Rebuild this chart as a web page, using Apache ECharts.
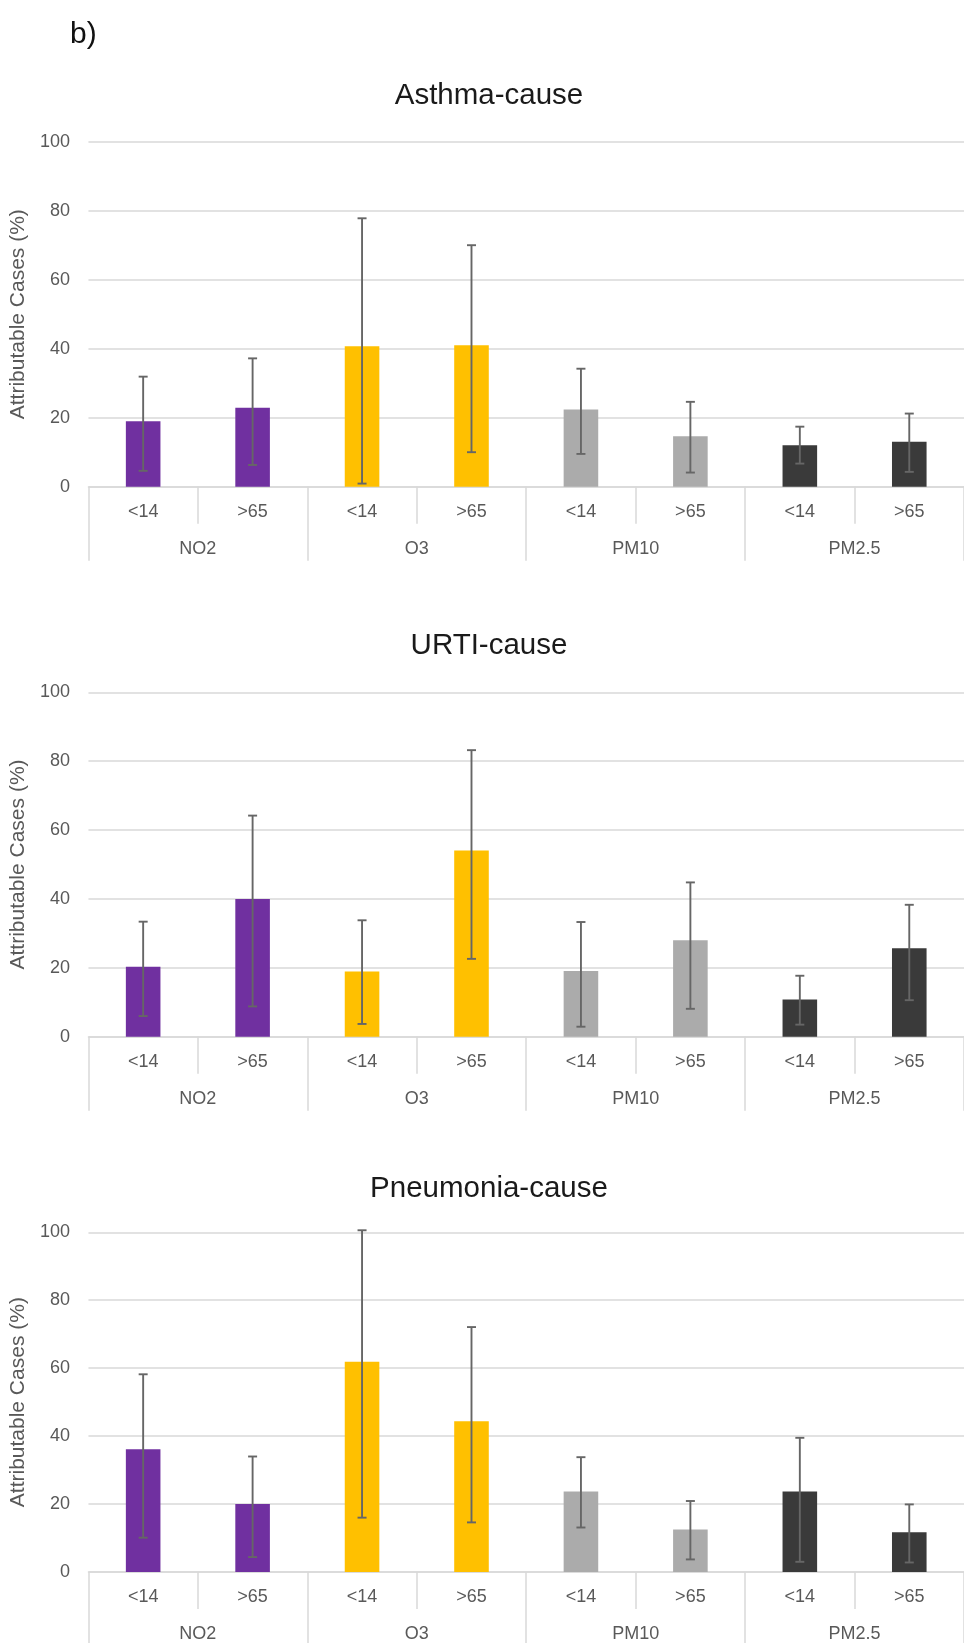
<!DOCTYPE html>
<html>
<head>
<meta charset="utf-8">
<script src="https://cdn.jsdelivr.net/npm/echarts@6/dist/echarts.min.js"></script>
<style>
html,body{margin:0;padding:0;background:#fff;}
#c{width:964px;height:1643px;}
</style>
</head>
<body>
<div id="c"></div>
<script>
// ---- data ----
const subLabels = ['<14', '>65', '<14', '>65', '<14', '>65', '<14', '>65'];
const groupLabels = ['NO2', 'O3', 'PM10', 'PM2.5'];
const chartTitles = ['Asthma-cause', 'URTI-cause', 'Pneumonia-cause'];
const yTicks = [0, 20, 40, 60, 80, 100];

const asthmaValues = [19.0, 22.9, 40.7, 41.0, 22.4, 14.6, 12.0, 13.0];
const asthmaLower  = [4.6, 6.3, 0.9, 10.0, 9.5, 4.1, 6.7, 4.3];
const asthmaUpper  = [31.9, 37.2, 77.8, 70.0, 34.2, 24.6, 17.4, 21.2];

const urtiValues = [20.3, 40.0, 18.9, 54.1, 19.1, 28.0, 10.8, 25.7];
const urtiLower  = [6.0, 8.8, 3.7, 22.6, 2.9, 8.1, 3.5, 10.6];
const urtiUpper  = [33.4, 64.2, 33.8, 83.2, 33.3, 44.8, 17.7, 38.3];

const pneuValues = [36.1, 20.0, 61.9, 44.4, 23.7, 12.5, 23.7, 11.7];
const pneuLower  = [10.1, 4.4, 16.0, 14.6, 13.1, 3.7, 3.0, 2.8];
const pneuUpper  = [58.2, 34.0, 100.6, 72.1, 33.8, 20.9, 39.5, 19.9];

const allValues = [asthmaValues, urtiValues, pneuValues];
const allLower = [asthmaLower, urtiLower, pneuLower];
const allUpper = [asthmaUpper, urtiUpper, pneuUpper];

// ---- style ----
const palette = ['#7030A0', '#FFC000', '#ABABAB', '#3A3A3A'];
const FONT = 'Liberation Sans';
const labelColor = '#595959';
const gridColor = '#d9d9d9';
const errColor = '#666666';
const grids = [
  {top: 141.7, height: 345},
  {top: 692.3, height: 344.4},
  {top: 1232.3, height: 339.7}
];
const titleTops = [76, 626, 1169];

const option = {
  animation: false,
  backgroundColor: '#fff',
  textStyle: {fontFamily: FONT},
  title: [{
    text: 'b)', left: 65, top: 15,
    textStyle: {fontFamily: FONT, fontSize: 30, fontWeight: 'normal', color: '#111'}
  }].concat(chartTitles.map((t, i) => ({
    text: t, left: 484, top: titleTops[i], textAlign: 'center',
    textStyle: {fontFamily: FONT, fontSize: 29.5, fontWeight: 'normal', color: '#1a1a1a'}
  }))),
  grid: grids.map(g => ({left: 87.7, right: -9.3, top: g.top, height: g.height, containLabel: false})),
  xAxis: [],
  yAxis: [],
  series: []
};

grids.forEach((g, gi) => {
  option.xAxis.push({
    type: 'category', gridIndex: gi, data: subLabels, position: 'bottom',
    axisLine: {show: true, lineStyle: {color: gridColor, width: 1.5}},
    axisTick: {show: true, interval: 0, length: 37, lineStyle: {color: gridColor, width: 1.5}},
    axisLabel: {interval: 0, margin: 16, fontSize: 18, color: labelColor, fontFamily: FONT},
    splitLine: {show: false}
  });
  option.xAxis.push({
    type: 'category', gridIndex: gi, data: groupLabels, position: 'bottom',
    axisLine: {show: false},
    axisTick: {show: true, interval: 0, length: 74, lineStyle: {color: gridColor, width: 1.5}},
    axisLabel: {interval: 0, margin: 53, fontSize: 18, color: labelColor, fontFamily: FONT},
    splitLine: {show: false}
  });
  option.yAxis.push({
    type: 'value', gridIndex: gi, min: yTicks[0], max: yTicks[yTicks.length - 1], interval: 20,
    name: 'Attributable Cases (%)', nameLocation: 'middle', nameGap: 53,
    nameTextStyle: {fontSize: 21, color: labelColor, fontFamily: FONT},
    axisLine: {show: false}, axisTick: {show: false},
    axisLabel: {margin: 18.5, fontSize: 18, color: labelColor, fontFamily: FONT},
    splitLine: {show: true, lineStyle: {color: gridColor, width: 1.5}}
  });
  const vals = allValues[gi], lo = allLower[gi], hi = allUpper[gi];
  option.series.push({
    type: 'bar', xAxisIndex: gi * 2, yAxisIndex: gi, barWidth: '31.6%',
    data: vals.map((v, i) => ({value: v, itemStyle: {color: palette[Math.floor(i / 2)]}})),
    z: 2
  });
  option.series.push({
    type: 'custom', xAxisIndex: gi * 2, yAxisIndex: gi, z: 5, clip: false,
    data: vals.map((v, i) => [i, lo[i], hi[i]]),
    encode: {x: 0, y: [1, 2]},
    renderItem: function (params, api) {
      const x = api.value(0);
      const pLo = api.coord([x, api.value(1)]);
      const pHi = api.coord([x, api.value(2)]);
      const hw = 4.5;
      const st = {stroke: errColor, lineWidth: 1.9};
      return {
        type: 'group',
        children: [
          {type: 'line', shape: {x1: pLo[0], y1: pLo[1], x2: pHi[0], y2: pHi[1]}, style: st},
          {type: 'line', shape: {x1: pHi[0] - hw, y1: pHi[1], x2: pHi[0] + hw, y2: pHi[1]}, style: st},
          {type: 'line', shape: {x1: pLo[0] - hw, y1: pLo[1], x2: pLo[0] + hw, y2: pLo[1]}, style: st}
        ]
      };
    }
  });
});

const chart = echarts.init(document.getElementById('c'), null, {renderer: 'canvas'});
chart.setOption(option);
</script>
</body>
</html>
